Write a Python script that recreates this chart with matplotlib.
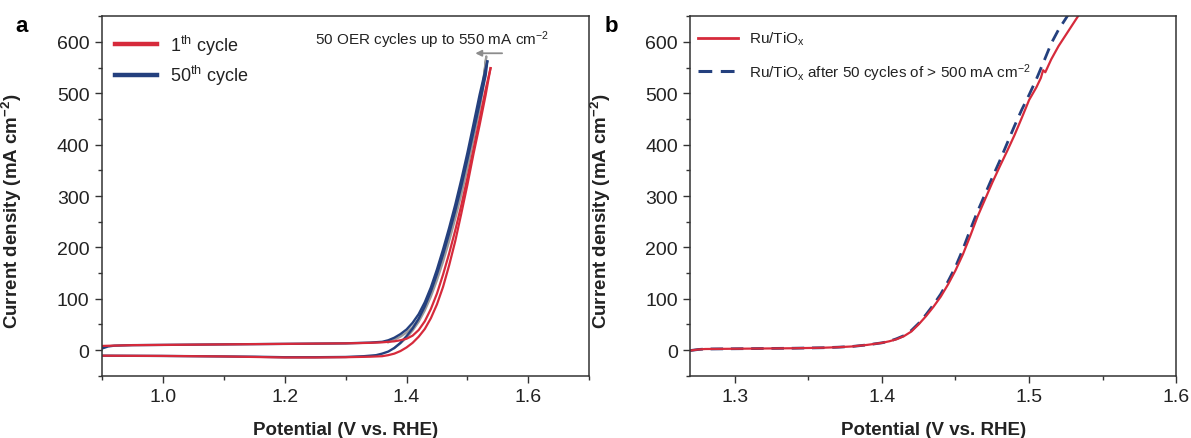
import matplotlib
matplotlib.use("Agg")
import matplotlib.pyplot as plt
from matplotlib.lines import Line2D
from matplotlib.ticker import MultipleLocator

plt.rcParams["font.family"] = ["Liberation Sans", "DejaVu Sans"]
plt.rcParams["mathtext.fontset"] = "custom"
plt.rcParams["mathtext.rm"] = "Liberation Sans"
plt.rcParams["mathtext.it"] = "Liberation Sans:italic"
plt.rcParams["mathtext.bf"] = "Liberation Sans:bold"
plt.rcParams["mathtext.default"] = "regular"

# ---------------------------------------------------------------------------
# Panel a: cyclic voltammograms, 1st vs 50th cycle (V vs. RHE, mA cm^-2)
# ---------------------------------------------------------------------------
cyc50_fwd_v = [0.90, 0.905, 0.91, 0.92, 0.95, 1.00, 1.10, 1.20, 1.30, 1.34, 1.36, 1.37,
               1.38, 1.39, 1.40, 1.41, 1.42, 1.43, 1.44, 1.45, 1.46, 1.47, 1.48, 1.49,
               1.50, 1.51, 1.52, 1.5327]
cyc50_fwd_j = [3, 5, 7, 8.5, 9.5, 10, 11, 12, 13, 14.5, 16, 19,
               24, 31, 40, 53, 70, 93, 122, 157, 196, 238, 283, 332,
               384, 440, 497, 562]

cyc50_rev_v = [1.5327, 1.53, 1.52, 1.51, 1.50, 1.49, 1.48, 1.47, 1.46, 1.45, 1.44, 1.43,
               1.42, 1.41, 1.40, 1.39, 1.38, 1.37, 1.36, 1.35, 1.33, 1.30, 1.25, 1.20,
               1.15, 1.10, 1.00, 0.90]
cyc50_rev_j = [562, 535, 480, 425, 371, 319, 271, 227, 186, 148, 114, 85,
               61, 42, 27, 14, 4, -3, -7, -10, -12, -13.5, -14, -14,
               -13, -12.5, -11.5, -11]

cyc1_fwd_v = [0.90, 0.95, 1.00, 1.10, 1.20, 1.30, 1.34, 1.36, 1.38, 1.39, 1.40, 1.41,
              1.42, 1.43, 1.44, 1.45, 1.46, 1.47, 1.48, 1.49, 1.50, 1.51, 1.52, 1.53, 1.538]
cyc1_fwd_j = [8, 9.5, 10, 11, 12, 13, 14, 15, 17, 19, 22, 28,
              39, 56, 80, 110, 147, 188, 233, 282, 335, 391, 449, 508, 549]

cyc1_rev_v = [1.538, 1.535, 1.53, 1.52, 1.51, 1.50, 1.49, 1.48, 1.47, 1.46, 1.45, 1.44,
              1.43, 1.42, 1.41, 1.40, 1.39, 1.38, 1.37, 1.36, 1.34, 1.30, 1.25, 1.20,
              1.15, 1.10, 1.00, 0.90]
cyc1_rev_j = [549, 530, 497, 438, 382, 322, 266, 212, 165, 123, 89, 62,
              41, 26, 14, 5, -2, -7, -10, -12, -13, -14, -14.5, -14.5,
              -13.5, -12.5, -11.5, -11]

# intermediate cycles (grey), anodic sweep up then back down
mid_cyc_v = [1.37, 1.38, 1.39, 1.40, 1.41, 1.42, 1.43, 1.44, 1.45, 1.46, 1.47, 1.48,
             1.49, 1.50, 1.51, 1.52, 1.525, 1.531,
             1.525, 1.52, 1.51, 1.50, 1.49, 1.48, 1.47, 1.46, 1.45, 1.44, 1.43, 1.42,
             1.41, 1.40, 1.39, 1.38]
mid_cyc_j = [15, 20, 26, 34, 45, 61, 83, 110, 143, 180, 221, 266,
             314, 366, 422, 482, 515, 572,
             505, 470, 410, 354, 303, 256, 212, 172, 136, 104, 77, 55,
             38, 24, 13, 4]

# ---------------------------------------------------------------------------
# Panel b: polarization curves before / after 50 cycles
# ---------------------------------------------------------------------------
fresh_v = [1.27, 1.275, 1.28, 1.30, 1.32, 1.34, 1.36, 1.37, 1.38, 1.39, 1.40, 1.405,
           1.41, 1.415, 1.42, 1.425, 1.43, 1.435, 1.44, 1.445, 1.45, 1.455, 1.46, 1.465,
           1.47, 1.475, 1.48, 1.485, 1.49, 1.495, 1.50, 1.505, 1.508, 1.5095, 1.511, 1.515,
           1.52, 1.525, 1.53, 1.535]
fresh_j = [-1, 1, 2, 2.5, 3, 3.5, 4.5, 5.5, 7, 10, 14, 17,
           21, 27, 36, 50, 66, 84, 104, 128, 155, 186, 222, 260,
           293, 326, 357, 387, 418, 452, 487, 512, 530, 545, 541, 566,
           592, 614, 636, 658]

cycled_v = [1.27, 1.275, 1.28, 1.30, 1.32, 1.34, 1.36, 1.37, 1.38, 1.39, 1.40, 1.405,
            1.41, 1.415, 1.42, 1.425, 1.43, 1.435, 1.44, 1.445, 1.45, 1.455, 1.46, 1.465,
            1.47, 1.475, 1.48, 1.485, 1.49, 1.495, 1.50, 1.505, 1.51, 1.515, 1.52, 1.525,
            1.528]
cycled_j = [-1, 1, 2, 2.5, 3, 3.5, 4.5, 5.5, 7, 10, 14, 17,
            22, 28, 38, 52, 69, 88, 109, 134, 162, 196, 234, 270,
            303, 336, 368, 402, 436, 468, 497, 528, 562, 597, 624, 646,
            660]

RED = "#d62a3b"
BLUE = "#24407e"
GREY = "#9a9a9a"
TXT = "#222222"


def style_axes(ax, xmajor, xminor):
    ax.set_ylim(-50, 650)
    ax.yaxis.set_major_locator(MultipleLocator(100))
    ax.yaxis.set_minor_locator(MultipleLocator(50))
    ax.xaxis.set_major_locator(MultipleLocator(xmajor))
    ax.xaxis.set_minor_locator(MultipleLocator(xminor))
    ax.tick_params(which="both", direction="out", top=False, right=False,
                   width=1.0, colors="#333333", labelcolor=TXT, labelsize=14)
    ax.tick_params(which="major", length=5, pad=4)
    ax.tick_params(which="minor", length=3)
    for sp in ax.spines.values():
        sp.set_linewidth(1.1)
        sp.set_color("#333333")
    ax.set_xlabel("Potential (V vs. RHE)", fontsize=13.5, fontweight="bold", color=TXT)
    ax.set_ylabel(r"Current density (mA cm$^{-2}$)", fontsize=13.5,
                  fontweight="bold", color=TXT)
    ax.xaxis.set_label_coords(0.5, -0.125)
    ax.yaxis.set_label_coords(-0.16, 0.46)


fig = plt.figure(figsize=(11.91, 4.39), dpi=100)
ax_a = fig.add_axes([0.0857, 0.1419, 0.409, 0.8187])
ax_b = fig.add_axes([0.5797, 0.1419, 0.408, 0.8187])

# --- panel a ---
ax_a.plot(mid_cyc_v, mid_cyc_j, color=GREY, lw=1.6)
ax_a.plot(cyc50_fwd_v, cyc50_fwd_j, color=BLUE, lw=1.7)
ax_a.plot(cyc50_rev_v, cyc50_rev_j, color=BLUE, lw=1.7)
ax_a.plot(cyc1_fwd_v, cyc1_fwd_j, color=RED, lw=1.6)
ax_a.plot(cyc1_rev_v, cyc1_rev_j, color=RED, lw=1.6)
ax_a.set_xlim(0.9, 1.7)
style_axes(ax_a, 0.2, 0.1)

handles_a = [Line2D([], [], color=RED, lw=3.2), Line2D([], [], color=BLUE, lw=3.2)]
ax_a.legend(handles_a, [r"1$^{th}$ cycle", r"50$^{th}$ cycle"], loc="upper left",
            bbox_to_anchor=(0.027, 0.955), frameon=False, fontsize=13,
            handlelength=2.3, handletextpad=0.75, labelspacing=0.35,
            borderaxespad=0, borderpad=0, labelcolor=TXT)

ax_a.text(0.4366, 0.923, r"50 OER cycles up to 550 mA cm$^{-2}$", transform=ax_a.transAxes,
          fontsize=11, color=TXT, va="baseline", ha="left")
ax_a.annotate("", xy=(1.513, 578), xytext=(1.557, 578),
              arrowprops=dict(arrowstyle="-|>", color="#8c8c8c", lw=1.3,
                              mutation_scale=9, shrinkA=0, shrinkB=0))

# --- panel b ---
ax_b.plot(cycled_v, cycled_j, color=BLUE, lw=2.0, dashes=(4.5, 2.8))
ax_b.plot(fresh_v, fresh_j, color=RED, lw=1.6)
ax_b.set_xlim(1.27, 1.6)
style_axes(ax_b, 0.1, 0.05)
ax_b.yaxis.set_label_coords(-0.159, 0.46)

handles_b = [Line2D([], [], color=RED, lw=2.0),
             Line2D([], [], color=BLUE, lw=2.2, dashes=(4.5, 2.8))]
ax_b.legend(handles_b, [r"Ru/TiO$_x$", r"Ru/TiO$_x$ after 50 cycles of > 500 mA cm$^{-2}$"],
            loc="upper left", bbox_to_anchor=(0.0156, 0.962), frameon=False,
            fontsize=11, handlelength=2.6, handletextpad=0.75, labelspacing=0.9,
            borderaxespad=0, borderpad=0, labelcolor=TXT)

fig.text(15 / 1191, 1 - 32 / 439, "a", fontsize=16, fontweight="bold", va="baseline")
fig.text(605 / 1191, 1 - 32 / 439, "b", fontsize=16, fontweight="bold", va="baseline")

fig.savefig("out.png", dpi=100)
